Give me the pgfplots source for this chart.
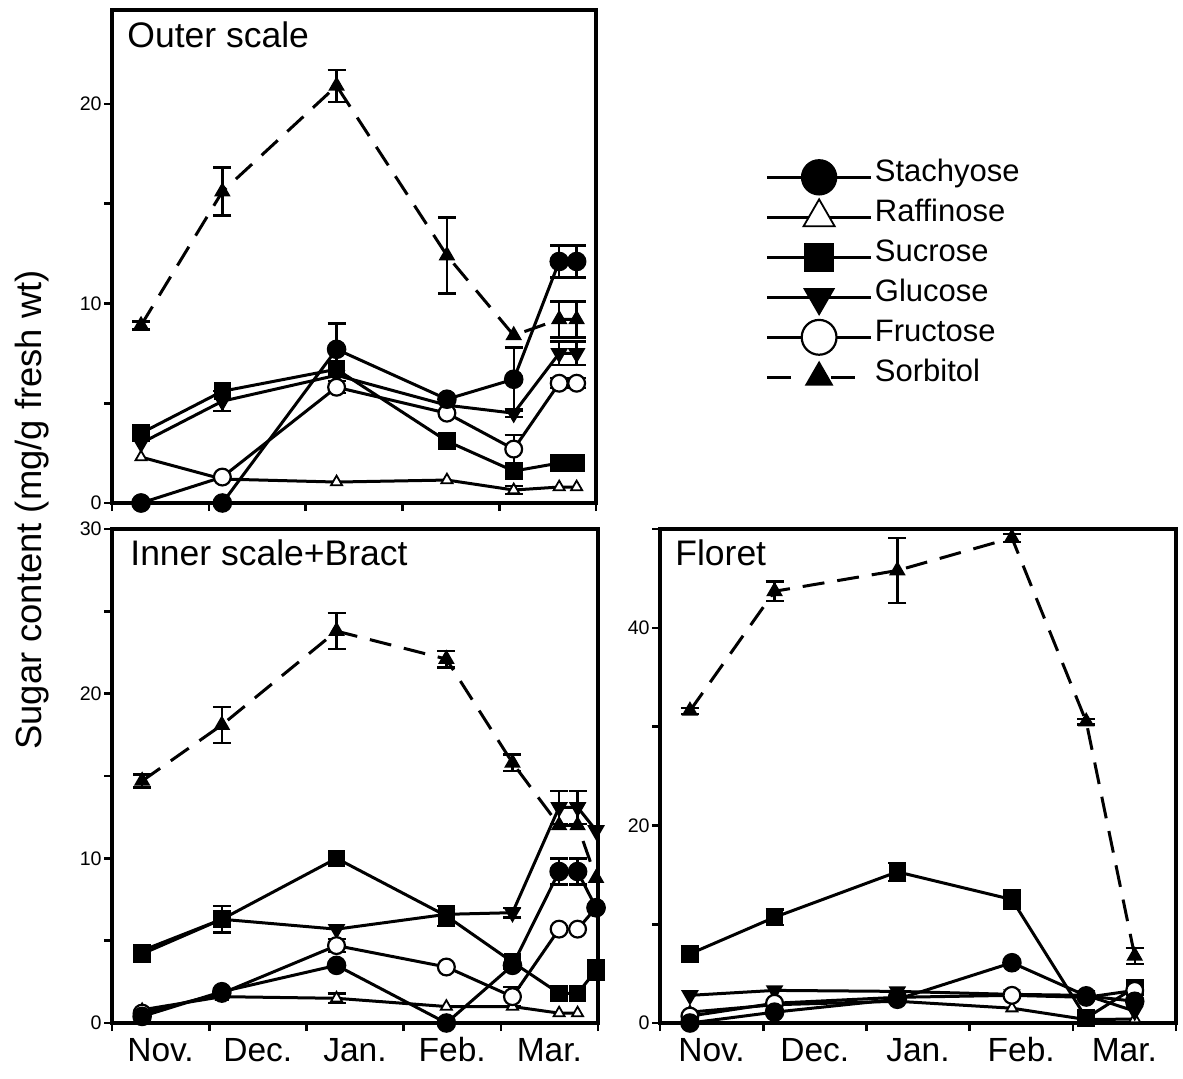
\documentclass[border=0pt]{standalone}
\usepackage{pgfplots}
\pgfplotsset{compat=1.18}
\usepackage{fontspec}
\setmainfont{Liberation Sans}

% one image pixel = 0.5pt
\pgfplotsset{
  panel/.style={
    scale only axis, xmin=0, xmax=5, ymin=0,
    clip=false,
    axis line style={line width=1.6pt},
    tick style={line width=1.3pt, black},
    tick align=outside, major tick length=4pt, minor tick length=4pt,
    xtick={0,...,5}, xticklabels={},
    xtick pos=bottom, ytick pos=left,
    /pgf/number format/assume math mode=true,
    yticklabel style={font=\fontsize{9.8}{10}\selectfont, inner sep=1pt},
  },
  months/.style={
    extra x ticks={0.5,1.5,2.5,3.5,4.5},
    extra x tick labels={Nov.,Dec.,Jan.,Feb.,Mar.},
    extra x tick style={major tick length=0pt,
      tick label style={font=\fontsize{16.75}{18}\selectfont, text height=12.5pt, text depth=0pt, yshift=-3pt}},
  },
  base/.style={line width=1.5pt, black, solid},
  stach/.style={base, mark=*, mark size=4.5pt, mark options={solid, fill=black, line width=0.8pt}},
  raff/.style={base, mark=triangle*, mark size=3.2pt, mark options={solid, fill=white, line width=0.9pt}},
  sucr/.style={base, mark=square*, mark size=4pt, mark options={solid, fill=black, line width=0.8pt}},
  gluc/.style={base, mark=triangle*, mark size=4.3pt, mark options={solid, fill=black, rotate=180, line width=0.8pt}},
  fruc/.style={base, mark=*, mark size=4.2pt, mark options={solid, fill=white, line width=1.1pt}},
  sorb/.style={base, dash pattern=on 11pt off 6.5pt, mark=triangle*, mark size=4pt, mark options={solid, fill=black, line width=0.8pt}},
  err/.style={only marks, black, mark=*, mark size=0.2pt, forget plot,
    error bars/.cd, y dir=both, y explicit, error mark=-,
    error bar style={draw=black, solid, line width=1.2pt},
    error mark options={black, solid, rotate=90, line width=1.2pt, mark size=4.5pt}},
}
\tikzset{ptitle/.style={anchor=base west, inner sep=0pt, font=\fontsize{17.75}{20}\selectfont}}

\begin{document}
\begin{tikzpicture}
\path (0pt,0pt) rectangle (591.5pt,539pt);

% ---------------- Outer scale ----------------
\begin{axis}[panel, at={(56pt,287.5pt)}, anchor=south west,
  width=242pt, height=246.5pt, ymax=24.7,
  ytick={0,10,20}, minor ytick={5,15},
  legend image code/.code={
    \draw[#1, line width=1.8pt] (0pt,0pt) -- (52pt,0pt);
    \draw[#1] plot coordinates {(26pt,0pt)};},
  legend style={at={(axis description cs:1.349,0.702)}, anchor=north west,
    draw=none, fill=none, inner sep=0pt, row sep=0pt, /tikz/column sep=1pt,
    font=\fontsize{15.5}{18}\selectfont,
    nodes={inner sep=0pt, text height=12pt, text depth=8pt}},
  legend cell align=left]

\addlegendimage{stach, mark size=8.7pt}\addlegendentry{Stachyose}
\addlegendimage{raff, mark size=9pt}\addlegendentry{Raffinose}
\addlegendimage{sucr, mark size=7pt}\addlegendentry{Sucrose}
\addlegendimage{gluc, mark size=8.5pt}\addlegendentry{Glucose}
\addlegendimage{fruc, mark size=8.7pt}\addlegendentry{Fructose}
\addlegendimage{sorb, mark size=7.5pt, dash pattern=on 12pt off 12pt on 4pt off 4pt}\addlegendentry{Sorbitol}

\addplot[err] coordinates {(0.30,8.9) +- (0,0.2) (1.14,15.6) +- (0,1.2) (2.32,20.9) +- (0,0.8) (3.46,12.4) +- (0,1.9) (4.62,9.2) +- (0,0.9) (4.80,9.2) +- (0,0.9)};
\addplot[err] coordinates {(2.32,7.7) +- (0,1.3) (4.15,6.2) +- (0,1.6) (4.62,12.1) +- (0,0.8) (4.80,12.1) +- (0,0.8)};
\addplot[err] coordinates {(1.14,5.1) +- (0,0.5) (4.15,4.5) +- (0,0.2) (4.62,7.5) +- (0,0.6) (4.80,7.5) +- (0,0.6)};
\addplot[err] coordinates {(2.32,5.8) +- (0,0.3) (4.15,2.7) +- (0,0.7) (4.62,6.0) +- (0,0.25) (4.80,6.0) +- (0,0.25)};
\addplot[err] coordinates {(4.15,0.65) +- (0,0.2)};

\addplot[sorb, forget plot] coordinates {(0.30,8.9) (1.14,15.6) (2.32,20.9) (3.46,12.4) (4.15,8.4) (4.62,9.2) (4.80,9.2)};
\addplot[raff, forget plot] coordinates {(0.30,2.3) (1.14,1.2) (2.32,1.05) (3.46,1.15) (4.15,0.65) (4.62,0.8) (4.80,0.8)};
\addplot[sucr, forget plot] coordinates {(0.30,3.5) (1.14,5.6) (2.32,6.7) (3.46,3.1) (4.15,1.6) (4.62,2.0) (4.80,2.0)};
\addplot[gluc, forget plot] coordinates {(0.30,3.0) (1.14,5.1) (2.32,6.4) (3.46,4.9) (4.15,4.5) (4.62,7.5) (4.80,7.5)};
\addplot[fruc, forget plot] coordinates {(0.30,0) (1.14,1.3) (2.32,5.8) (3.46,4.5) (4.15,2.7) (4.62,6.0) (4.80,6.0)};
\addplot[stach, forget plot] coordinates {(0.30,0) (1.14,0) (2.32,7.7) (3.46,5.2) (4.15,6.2) (4.62,12.1) (4.80,12.1)};

\node[ptitle] at (rel axis cs:0.031,0.923) {Outer scale};
\end{axis}

% ---------------- Inner scale + Bract ----------------
\begin{axis}[panel, months, at={(56pt,27.5pt)}, anchor=south west,
  width=243pt, height=247pt, ymax=30,
  ytick={0,10,20,30}, minor ytick={5,15,25}]

\addplot[err] coordinates {(0.31,14.7) +- (0,0.4) (1.13,18.1) +- (0,1.1) (2.31,23.8) +- (0,1.1) (3.44,22.1) +- (0,0.5) (4.12,15.8) +- (0,0.5)};
\addplot[err] coordinates {(4.12,6.7) +- (0,0.3) (4.60,13.1) +- (0,1.0) (4.79,13.1) +- (0,1.0)};
\addplot[err] coordinates {(4.60,9.2) +- (0,0.8) (4.79,9.2) +- (0,0.8)};
\addplot[err] coordinates {(0.31,4.2) +- (0,0.5) (1.13,6.3) +- (0,0.8) (3.44,6.5) +- (0,0.6) (4.12,3.7) +- (0,0.4) (4.98,3.2) +- (0,0.6)};
\addplot[err] coordinates {(2.31,4.7) +- (0,0.4) (4.12,1.6) +- (0,0.6)};
\addplot[err] coordinates {(2.31,1.5) +- (0,0.3)};

\addplot[sorb] coordinates {(0.31,14.7) (1.13,18.1) (2.31,23.8) (3.44,22.1) (4.12,15.8) (4.60,12.0) (4.79,12.0) (4.98,8.8)};
\addplot[raff] coordinates {(0.31,0.8) (1.13,1.6) (2.31,1.5) (3.44,1.0) (4.12,1.0) (4.60,0.6) (4.79,0.6)};
\addplot[sucr] coordinates {(0.31,4.2) (1.13,6.3) (2.31,10.0) (3.44,6.5) (4.12,3.7) (4.60,1.8) (4.79,1.8) (4.98,3.2)};
\addplot[gluc] coordinates {(0.31,4.4) (1.13,6.3) (2.31,5.7) (3.44,6.6) (4.12,6.7) (4.60,13.1) (4.79,13.1) (4.98,11.7)};
\addplot[fruc] coordinates {(0.31,0.6) (1.13,1.8) (2.31,4.7) (3.44,3.4) (4.12,1.6) (4.60,5.7) (4.79,5.7) (4.98,7.0)};
\addplot[stach] coordinates {(0.31,0.4) (1.13,1.9) (2.31,3.5) (3.44,0) (4.12,3.5) (4.60,9.2) (4.79,9.2) (4.98,7.0)};

\node[ptitle] at (rel axis cs:0.037,0.927) {Inner scale+Bract};
\end{axis}

% ---------------- Floret ----------------
\begin{axis}[panel, months, at={(330pt,27.5pt)}, anchor=south west,
  width=258pt, height=247pt, ymax=50,
  ytick={0,20,40}, minor ytick={10,30,50}]

\addplot[err] coordinates {(0.29,31.6) +- (0,0.3) (1.11,43.7) +- (0,1.0) (2.30,45.8) +- (0,3.3) (3.41,49.1) +- (0,0.4) (4.13,30.5) +- (0,0.3) (4.60,6.8) +- (0,0.8)};
\addplot[err] coordinates {(0.29,7.0) +- (0,0.8) (1.11,10.7) +- (0,0.8) (2.30,15.3) +- (0,0.9) (3.41,12.5) +- (0,0.9)};

\addplot[sorb] coordinates {(0.29,31.6) (1.11,43.7) (2.30,45.8) (3.41,49.1) (4.13,30.5) (4.60,6.8)};
\addplot[raff] coordinates {(0.29,1.1) (1.11,1.85) (2.30,2.2) (3.41,1.5) (4.13,0.35) (4.60,0.4)};
\addplot[sucr] coordinates {(0.29,7.0) (1.11,10.7) (2.30,15.3) (3.41,12.5) (4.13,0.5) (4.60,3.6)};
\addplot[gluc] coordinates {(0.29,2.8) (1.11,3.3) (2.30,3.2) (3.41,2.9) (4.13,2.8) (4.60,1.2)};
\addplot[fruc] coordinates {(0.29,0.7) (1.11,2.0) (2.30,2.6) (3.41,2.8) (4.13,2.6) (4.60,3.3)};
\addplot[stach] coordinates {(0.29,0) (1.11,1.1) (2.30,2.4) (3.41,6.1) (4.13,2.75) (4.60,2.2)};

\node[ptitle] at (rel axis cs:0.029,0.927) {Floret};
\end{axis}

\node[rotate=90, font=\fontsize{18.2}{20}\selectfont] at (16pt,284pt) {Sugar content (mg/g fresh wt)};
\end{tikzpicture}
\end{document}
